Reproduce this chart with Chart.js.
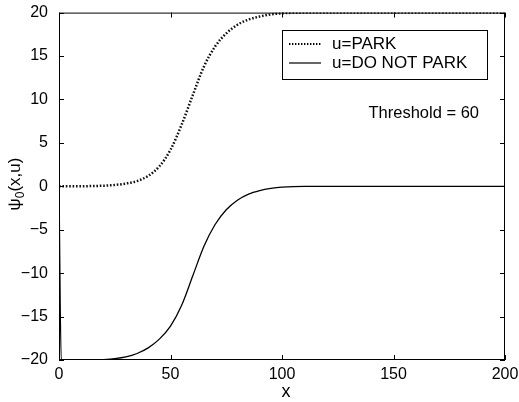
<!DOCTYPE html>
<html>
<head>
<meta charset="utf-8">
<script src="https://cdn.jsdelivr.net/npm/chart.js@4.4.0/dist/chart.umd.min.js"></script>
<style>
  html, body { margin: 0; padding: 0; background: #fff; }
  #wrap { width: 519px; height: 402px; }
</style>
</head>
<body>
<div id="wrap"><canvas id="chart" width="519" height="402"></canvas></div>
<script>
// x positions (shared by both curves)
const xValues = [0, 1, 5, 10, 15, 20, 25, 30, 35, 40, 45, 50, 55, 60, 65, 70, 75, 80, 85, 90, 95, 100,
                 110, 120, 130, 140, 150, 160, 170, 180, 190, 200];
// psi_0(x, PARK)
const parkValues = [0, 0, 0, 0.01, 0.03, 0.07, 0.15, 0.32, 0.6, 1.2, 2.3, 4.2, 7.1, 10.5, 13.8, 16.1, 17.6, 18.6, 19.2, 19.55, 19.8, 19.92,
                    20, 20, 20, 20, 20, 20, 20, 20, 20, 20];
// psi_0(x, DO NOT PARK)
const doNotParkValues = [0, -20, -20, -20, -20, -19.95, -19.85, -19.65, -19.25, -18.6, -17.6, -16.1, -13.7, -10.3, -6.9, -4.4, -2.7, -1.6, -0.9, -0.5, -0.25, -0.1,
                         0, 0, 0, 0, 0, 0, 0, 0, 0, 0];
const xTicks = [0, 50, 100, 150, 200];
const yTicks = [-20, -15, -10, -5, 0, 5, 10, 15, 20];
const seriesLabels = ['u=PARK', 'u=DO NOT PARK'];
const thresholdText = 'Threshold = 60';

const FONT = '"Liberation Sans", Arial, Helvetica, sans-serif';

function toPoints(ys) {
    return xValues.map((x, i) => ({ x: x, y: ys[i] }));
}

function minusLabel(v) {
    return v < 0 ? '\u2212' + Math.abs(v) : String(v);
}

// box, inward ticks, legend, labels
const decorations = {
    id: 'decorations',
    afterDatasetsDraw(chart) {
        const ctx = chart.ctx;
        const area = chart.chartArea;
        const xs = chart.scales.x;
        const ys = chart.scales.y;
        ctx.save();
        ctx.strokeStyle = '#000';
        ctx.lineWidth = 1;
        ctx.strokeRect(area.left + 0.5, area.top + 0.5, area.right - area.left - 1, area.bottom - area.top - 1);

        ctx.beginPath();
        yTicks.forEach(v => {
            const py = Math.round(ys.getPixelForValue(v)) + 0.5;
            ctx.moveTo(area.left, py); ctx.lineTo(area.left + 5, py);
            ctx.moveTo(area.right, py); ctx.lineTo(area.right - 5, py);
        });
        xTicks.forEach(v => {
            const px = Math.round(xs.getPixelForValue(v)) + 0.5;
            ctx.moveTo(px, area.bottom); ctx.lineTo(px, area.bottom - 5);
            ctx.moveTo(px, area.top); ctx.lineTo(px, area.top + 5);
        });
        ctx.stroke();

        // legend
        const lx = 282, ly = 30, lw = 205, lh = 49;
        ctx.fillStyle = '#fff';
        ctx.fillRect(lx, ly, lw, lh);
        ctx.strokeRect(lx + 0.5, ly + 0.5, lw, lh);
        const rows = [ly + 14, ly + 33];
        ctx.lineWidth = 2;
        ctx.setLineDash([1.4, 1.6]);
        ctx.beginPath(); ctx.moveTo(289, rows[0]); ctx.lineTo(321, rows[0]); ctx.stroke();
        ctx.setLineDash([]);
        ctx.lineWidth = 1.2;
        ctx.beginPath(); ctx.moveTo(289, rows[1]); ctx.lineTo(321, rows[1]); ctx.stroke();
        ctx.fillStyle = '#000';
        ctx.font = '17px ' + FONT;
        ctx.textBaseline = 'middle';
        ctx.textAlign = 'left';
        ctx.fillText(seriesLabels[0], 332, rows[0]);
        ctx.fillText(seriesLabels[1], 332, rows[1]);

        ctx.font = '16.5px ' + FONT;
        ctx.textAlign = 'right';
        ctx.fillText(thresholdText, 479, 113);

        // x axis title
        ctx.textAlign = 'center';
        ctx.textBaseline = 'alphabetic';
        ctx.font = '18px ' + FONT;
        ctx.fillText('x', 286, 397);

        // y axis title: psi_0(x,u)
        ctx.translate(20, 184);
        ctx.rotate(-Math.PI / 2);
        const big = '17px ' + FONT, small = '12px ' + FONT;
        ctx.font = big; const w1 = ctx.measureText('\u03c8').width;
        ctx.font = small; const w2 = ctx.measureText('0').width;
        ctx.font = big; const w3 = ctx.measureText('(x,u)').width;
        let cx = -(w1 + w2 + w3) / 2;
        ctx.textAlign = 'left';
        ctx.font = big; ctx.fillText('\u03c8', cx, 0); cx += w1;
        ctx.font = small; ctx.fillText('0', cx, 4); cx += w2;
        ctx.font = big; ctx.fillText('(x,u)', cx, 0);
        ctx.restore();
    }
};

new Chart(document.getElementById('chart').getContext('2d'), {
    type: 'scatter',
    data: {
        datasets: [
            {
                label: seriesLabels[0],
                data: toPoints(parkValues),
                showLine: true,
                borderColor: '#111',
                borderWidth: 2.5,
                borderDash: [1.6, 1.8],
                pointRadius: 0,
                cubicInterpolationMode: 'monotone'
            },
            {
                label: seriesLabels[1],
                data: toPoints(doNotParkValues),
                showLine: true,
                borderColor: '#000',
                borderWidth: 1.3,
                pointRadius: 0,
                cubicInterpolationMode: 'monotone'
            }
        ]
    },
    options: {
        responsive: false,
        animation: false,
        layout: { padding: { top: 10, right: 14, left: 0, bottom: 0 } },
        plugins: {
            legend: { display: false },
            tooltip: { enabled: false }
        },
        scales: {
            x: {
                type: 'linear',
                min: 0,
                max: 200,
                grid: { display: false },
                border: { display: false },
                afterFit(scale) { scale.height = 42; },
                afterBuildTicks(scale) { scale.ticks = xTicks.map(v => ({ value: v })); },
                ticks: { color: '#000', font: { family: FONT, size: 16 }, padding: -3, autoSkip: false, maxRotation: 0 }
            },
            y: {
                type: 'linear',
                min: -20,
                max: 20,
                grid: { display: false },
                border: { display: false },
                afterFit(scale) { scale.width = 59; },
                afterBuildTicks(scale) { scale.ticks = yTicks.map(v => ({ value: v })); },
                ticks: { color: '#000', font: { family: FONT, size: 16 }, padding: 3, autoSkip: false, callback: minusLabel }
            }
        }
    },
    plugins: [decorations]
});
</script>
</body>
</html>
